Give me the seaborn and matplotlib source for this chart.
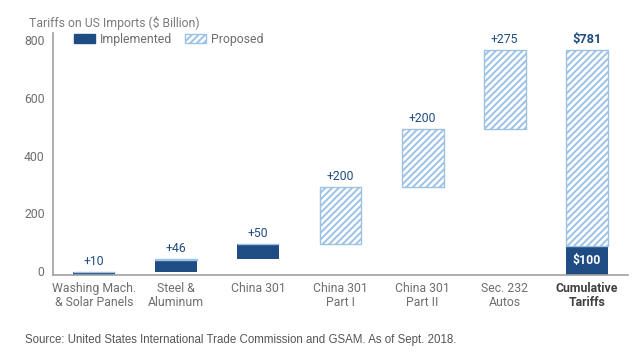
import numpy as np
import pandas as pd
import matplotlib
matplotlib.use("Agg")
import matplotlib.pyplot as plt
import matplotlib.transforms as mtransforms
from matplotlib.patches import Patch
import seaborn as sns

# ---- data ----
categories = ["Washing Mach.\n& Solar Panels", "Steel &\nAluminum", "China 301",
              "China 301\nPart I", "China 301\nPart II", "Sec. 232\nAutos",
              "Cumulative\nTariffs"]
implemented = [10, 42, 50, 0, 0, 0, 100]
proposed = [0, 4, 0, 200, 200, 275, 681]
value_labels = ["+10", "+46", "+50", "+200", "+200", "+275", "$781"]
inside_label = "$100"
yticks = [0, 200, 400, 600, 800]

sns.set_theme(style="white")
plt.rcParams["font.family"] = ["Roboto", "DejaVu Sans"]
plt.rcParams["hatch.linewidth"] = 1.4

DARK = "#1f4c82"
LIGHT = "#9cc2e5"
GRAY = "#6e6e6e"
FS = 8.8

impl = np.array(implemented, dtype=float)
prop = np.array(proposed, dtype=float)
totals = impl + prop
# waterfall bottoms: steps stack on previous totals, the last bar starts at 0
bottoms = np.concatenate([[0], np.cumsum(totals[:-2]), [0]])

df = pd.DataFrame({"cat": categories, "impl": impl, "prop": prop,
                   "b_impl": bottoms, "b_prop": bottoms + impl})

fig = plt.figure(figsize=(6.35, 3.58), dpi=100)
ax = fig.add_axes([53 / 635, 1 - 275 / 358, 575 / 635, (275 - 33) / 358])

sns.barplot(data=df, x="cat", y="impl", bottom=df["b_impl"], color=DARK,
            width=0.51, saturation=1, linewidth=0, ax=ax)
sns.barplot(data=df, x="cat", y="prop", bottom=df["b_prop"], color="white",
            width=0.51, saturation=1, edgecolor=LIGHT, linewidth=1.0,
            hatch="/////", ax=ax)

ax.set_xlim(-0.5, 6.5)
ax.set_ylim(0, 840)
ax.set_yticks(yticks)
ax.set_xlabel("")
ax.set_ylabel("")
for s in ["top", "right"]:
    ax.spines[s].set_visible(False)
for s in ["left", "bottom"]:
    ax.spines[s].set_color("#a0a0a0")
    ax.spines[s].set_linewidth(1.2)
ax.tick_params(axis="both", length=0, labelsize=FS, colors=GRAY)
ax.tick_params(axis="y", pad=6)
ax.tick_params(axis="x", pad=5)
offset = mtransforms.ScaledTranslation(0, 3 / 72, fig.dpi_scale_trans)
for lab in ax.get_yticklabels():
    lab.set_transform(lab.get_transform() + offset)
for lab in ax.get_xticklabels():
    lab.set_linespacing(1.15)
xl = ax.get_xticklabels()
xl[-1].set_fontweight("bold")
xl[-1].set_color("#404040")

# value labels
for i, lab in enumerate(value_labels):
    top = bottoms[i] + totals[i]
    bold = lab.startswith("$")
    ax.annotate(lab, (i, top), xytext=(0, 3), textcoords="offset points",
                ha="center", va="bottom", fontsize=FS + 0.4 if bold else FS,
                color=DARK, fontweight="bold" if bold else "normal")
ax.text(6, impl[-1] / 2, inside_label, ha="center", va="center",
        color="white", fontweight="bold", fontsize=FS)

# legend
handles = [Patch(facecolor=DARK, edgecolor=DARK, label="Implemented"),
           Patch(facecolor="white", edgecolor=LIGHT, hatch="/////", label="Proposed")]
fig.legend(handles=handles, loc="upper left", ncol=2, frameon=False,
           bbox_to_anchor=(74 / 635, 1 - 33 / 358), borderpad=0,
           borderaxespad=0, handlelength=1.7, handleheight=0.75,
           handletextpad=0.4, columnspacing=1.1, fontsize=FS,
           labelcolor=GRAY)

fig.text(29 / 635, 1 - 23 / 358, "Tariffs on US Imports ($ Billion)",
         ha="left", va="center", fontsize=FS, color="#7a7a7a")
fig.text(25 / 635, 1 - 340 / 358,
         "Source: United States International Trade Commission and GSAM. As of Sept. 2018.",
         ha="left", va="center", fontsize=8.3, color="#555555",
         family=["Liberation Sans", "DejaVu Sans"])

fig.savefig("out.png", dpi=100)
